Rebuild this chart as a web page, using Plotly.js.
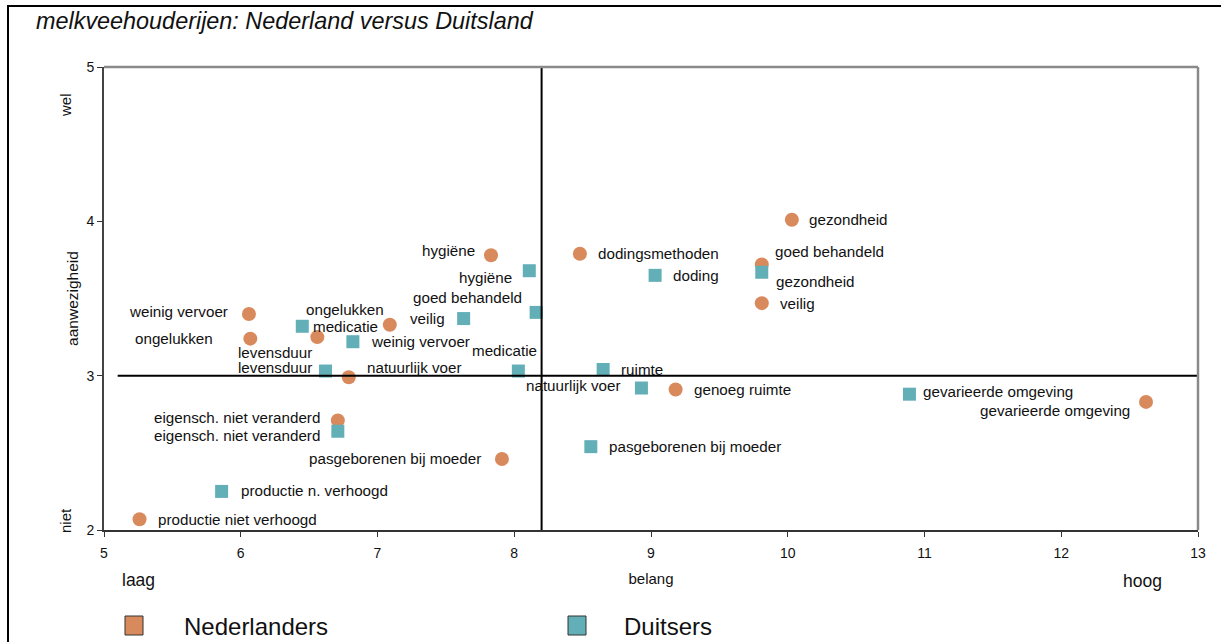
<!DOCTYPE html>
<html>
<head>
<meta charset="utf-8">
<script src="https://cdn.plot.ly/plotly-3.0.1.min.js"></script>
<style>
  html, body { margin: 0; padding: 0; background: #ffffff; }
  #chart { width: 1221px; height: 642px; }
</style>
</head>
<body>
<div id="chart"></div>
<script>
// ---- data ----
const nlLabels = ["gezondheid", "goed behandeld", "veilig", "dodingsmethoden", "hygiëne",
  "weinig vervoer", "ongelukken", "levensduur", "medicatie", "natuurlijk voer",
  "eigensch. niet veranderd", "pasgeborenen bij moeder", "productie niet verhoogd",
  "genoeg ruimte", "gevarieerde omgeving"];
const nlX = [10.03, 9.81, 9.81, 8.48, 7.83, 6.06, 6.07, 6.56, 7.09, 6.79, 6.71, 7.91, 5.26, 9.18, 12.62];
const nlY = [4.01, 3.72, 3.47, 3.79, 3.78, 3.40, 3.24, 3.25, 3.33, 2.99, 2.71, 2.46, 2.07, 2.91, 2.83];

const deLabels = ["gezondheid", "goed behandeld", "veilig", "doding", "hygiëne",
  "weinig vervoer", "ongelukken", "levensduur", "medicatie", "natuurlijk voer",
  "eigensch. niet veranderd", "pasgeborenen bij moeder", "productie n. verhoogd",
  "ruimte", "gevarieerde omgeving"];
const deX = [9.81, 8.16, 7.63, 9.03, 8.11, 6.82, 6.45, 6.62, 8.03, 8.93, 6.71, 8.56, 5.86, 8.65, 10.89];
const deY = [3.67, 3.41, 3.37, 3.65, 3.68, 3.22, 3.32, 3.03, 3.03, 2.92, 2.64, 2.54, 2.25, 3.04, 2.88];

const xTicks = [5, 6, 7, 8, 9, 10, 11, 12, 13];
const yTicks = [2, 3, 4, 5];
const xSplit = 8.2;   // vertical reference line
const ySplit = 3;     // horizontal reference line

const seriesNames = ["Nederlanders", "Duitsers"];
const titleText = "melkveehouderijen: Nederland versus Duitsland";
const xTitle = "belang", yTitle = "aanwezigheid";
const xLow = "laag", xHigh = "hoog", yHigh = "wel", yLow = "niet";

// ---- styles ----
const ORANGE = "#D98A5C";
const TEAL = "#63AFB8";
const FONT = "Liberation Sans, Arial, sans-serif";
const LABEL_SIZE = 15.2;

// label placement per point: [anchor, x offset px, y offset px (up)]
const nlPlace = [["left", 15, 0], ["left", 11, 13], ["left", 16, 0], ["left", 16, 0], ["right", -14, 5],
  ["right", -19, 2], ["right", -35, 0], ["right", -3, -15], ["right", -10, -2], ["left", 16, 10],
  ["right", -16, 3], ["right", -19, 1], ["left", 16, 0], ["left", 16, 0], ["right", -14, -9]];
const dePlace = [["left", 12, -9], ["right", -12, 15], ["right", -17, 0], ["left", 16, 0], ["right", -15, -7],
  ["left", 16, 0], ["left", 2, 17], ["right", -12, 4], ["right", 21, 21], ["right", -18, 3],
  ["right", -16, -4], ["left", 16, 0], ["left", 17, 1], ["left", 16, 0], ["left", 12, 3]];

const traces = [
  {
    type: "scatter", mode: "markers", name: seriesNames[0],
    x: nlX, y: nlY, text: nlLabels,
    marker: { symbol: "circle", size: 14, color: ORANGE },
    cliponaxis: false, showlegend: false, hoverinfo: "text+x+y"
  },
  {
    type: "scatter", mode: "markers", name: seriesNames[1],
    x: deX, y: deY, text: deLabels,
    marker: { symbol: "square", size: 13, color: TEAL },
    cliponaxis: false, showlegend: false, hoverinfo: "text+x+y"
  }
];

function pointLabels(xs, ys, labels, place) {
  return labels.map((t, i) => ({
    text: t, x: xs[i], y: ys[i], xref: "x", yref: "y",
    xanchor: place[i][0], yanchor: "middle",
    xshift: place[i][1], yshift: place[i][2],
    showarrow: false,
    font: { family: FONT, size: LABEL_SIZE, color: "#111" }
  }));
}

// plot-area geometry helpers (paper coords)
const L = 104, R = 23, T = 67, B = 112, W = 1221, H = 642;
const pw = W - L - R, ph = H - T - B;
const px2x = p => (p - L) / pw;
const py2y = p => (H - B - p) / ph;

const layout = {
  width: W, height: H,
  margin: { l: L, r: R, t: T, b: B },
  paper_bgcolor: "#ffffff", plot_bgcolor: "#ffffff",
  font: { family: FONT, color: "#111" },
  title: {
    text: "<i>" + titleText + "</i>",
    font: { family: FONT, size: 23.4, color: "#111" },
    x: 36 / W, xanchor: "left", xref: "container",
    y: 1 - 21 / H, yanchor: "middle", yref: "container"
  },
  xaxis: {
    range: [5, 13], tickvals: xTicks, ticktext: xTicks.map(String),
    showgrid: false, zeroline: false,
    showline: true, linecolor: "#333", linewidth: 2,
    ticks: "outside", ticklen: 5, tickcolor: "#333", tickwidth: 1,
    ticklabelstandoff: 4,
    tickfont: { family: FONT, size: 14, color: "#111" },
    title: { text: xTitle, font: { family: FONT, size: 15, color: "#111" }, standoff: 14 },
    fixedrange: true
  },
  yaxis: {
    range: [2, 5], tickvals: yTicks, ticktext: yTicks.map(String),
    showgrid: false, zeroline: false,
    showline: true, linecolor: "#444", linewidth: 2,
    ticks: "outside", ticklen: 5, tickcolor: "#333", tickwidth: 1,
    tickfont: { family: FONT, size: 14, color: "#111" },
    title: { text: yTitle, font: { family: FONT, size: 15.5, color: "#111" }, standoff: 4 },
    fixedrange: true
  },
  shapes: [
    // reference lines
    { type: "line", xref: "x", yref: "y", x0: xSplit, x1: xSplit, y0: 2, y1: 5,
      line: { color: "#000", width: 2 } },
    { type: "line", xref: "x", yref: "y", x0: 5.1, x1: 13, y0: ySplit, y1: ySplit,
      line: { color: "#000", width: 2 } },
    // top and right plot border (grey)
    { type: "line", xref: "paper", yref: "paper", x0: 0, x1: 1, y0: 1, y1: 1,
      line: { color: "#8a8a8a", width: 2.5 } },
    { type: "line", xref: "paper", yref: "paper", x0: 1, x1: 1, y0: 0, y1: 1,
      line: { color: "#8a8a8a", width: 2.5 } },
    // outer frame (top and left edges)
    { type: "line", xref: "paper", yref: "paper", x0: px2x(7), x1: px2x(1225), y0: py2y(6), y1: py2y(6),
      line: { color: "#000", width: 2 } },
    { type: "line", xref: "paper", yref: "paper", x0: px2x(8), x1: px2x(8), y0: py2y(6), y1: py2y(650),
      line: { color: "#000", width: 2 } },
    // legend swatches
    { type: "rect", xref: "paper", yref: "paper", x0: px2x(125), x1: px2x(143), y0: py2y(616), y1: py2y(635),
      fillcolor: ORANGE, line: { color: "#333", width: 1 } },
    { type: "rect", xref: "paper", yref: "paper", x0: px2x(568), x1: px2x(586), y0: py2y(616), y1: py2y(635),
      fillcolor: TEAL, line: { color: "#333", width: 1 } }
  ],
  annotations: [
    ...pointLabels(nlX, nlY, nlLabels, nlPlace),
    ...pointLabels(deX, deY, deLabels, dePlace),
    { text: xLow, xref: "paper", yref: "paper", x: px2x(138), y: py2y(580),
      xanchor: "center", yanchor: "middle", showarrow: false, font: { family: FONT, size: 17.5, color: "#111" } },
    { text: xHigh, xref: "paper", yref: "paper", x: px2x(1142), y: py2y(581),
      xanchor: "center", yanchor: "middle", showarrow: false, font: { family: FONT, size: 17.5, color: "#111" } },
    { text: yHigh, xref: "paper", yref: "paper", x: px2x(65), y: py2y(105), textangle: -90,
      xanchor: "center", yanchor: "middle", showarrow: false, font: { family: FONT, size: 15, color: "#111" } },
    { text: yLow, xref: "paper", yref: "paper", x: px2x(65), y: py2y(521), textangle: -90,
      xanchor: "center", yanchor: "middle", showarrow: false, font: { family: FONT, size: 15, color: "#111" } },
    { text: seriesNames[0], xref: "paper", yref: "paper", x: px2x(182), y: py2y(626),
      xanchor: "left", yanchor: "middle", showarrow: false, font: { family: FONT, size: 24, color: "#111" } },
    { text: seriesNames[1], xref: "paper", yref: "paper", x: px2x(622), y: py2y(626),
      xanchor: "left", yanchor: "middle", showarrow: false, font: { family: FONT, size: 24, color: "#111" } }
  ]
};

Plotly.newPlot("chart", traces, layout, { displayModeBar: false, staticPlot: true });
</script>
</body>
</html>
